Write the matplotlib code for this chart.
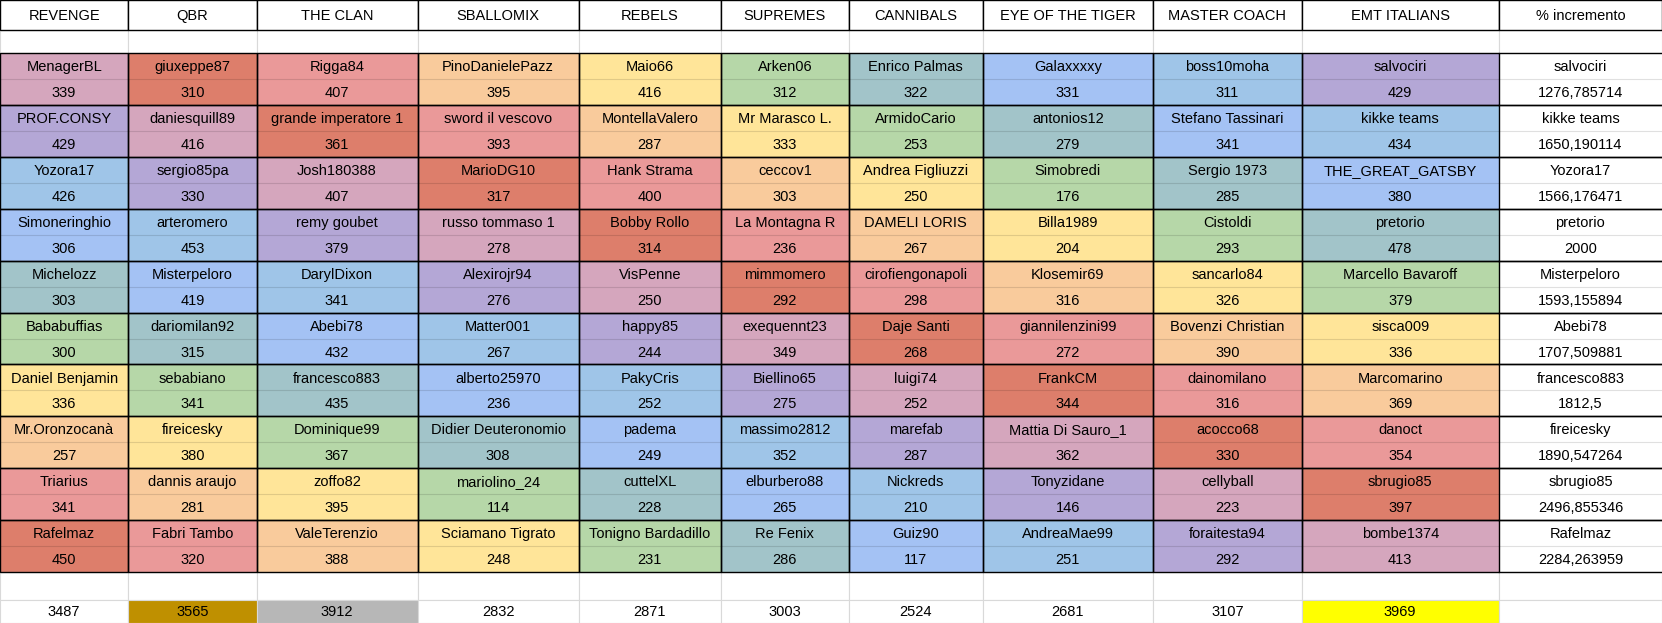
import matplotlib
matplotlib.use("Agg")
import matplotlib.pyplot as plt
from matplotlib.patches import Rectangle

teams = ["REVENGE","QBR","THE CLAN","SBALLOMIX","REBELS","SUPREMES","CANNIBALS","EYE OF THE TIGER","MASTER COACH","EMT ITALIANS"]
players = [
 ["MenagerBL","giuxeppe87","Rigga84","PinoDanielePazz","Maio66","Arken06","Enrico Palmas","Galaxxxxy","boss10moha","salvociri"],
 ["PROF.CONSY","daniesquill89","grande imperatore 1","sword il vescovo","MontellaValero","Mr Marasco L.","ArmidoCario","antonios12","Stefano Tassinari","kikke teams"],
 ["Yozora17","sergio85pa","Josh180388","MarioDG10","Hank Strama","ceccov1","Andrea Figliuzzi","Simobredi","Sergio 1973","THE_GREAT_GATSBY"],
 ["Simoneringhio","arteromero","remy goubet","russo tommaso 1","Bobby Rollo","La Montagna R","DAMELI LORIS","Billa1989","Cistoldi","pretorio"],
 ["Michelozz","Misterpeloro","DarylDixon","Alexirojr94","VisPenne","mimmomero","cirofiengonapoli","Klosemir69","sancarlo84","Marcello Bavaroff"],
 ["Bababuffias","dariomilan92","Abebi78","Matter001","happy85","exequennt23","Daje Santi","giannilenzini99","Bovenzi Christian","sisca009"],
 ["Daniel Benjamin","sebabiano","francesco883","alberto25970","PakyCris","Biellino65","luigi74","FrankCM","dainomilano","Marcomarino"],
 ["Mr.Oronzocanà","fireicesky","Dominique99","Didier Deuteronomio","padema","massimo2812","marefab","Mattia Di Sauro_1","acocco68","danoct"],
 ["Triarius","dannis araujo","zoffo82","mariolino_24","cuttelXL","elburbero88","Nickreds","Tonyzidane","cellyball","sbrugio85"],
 ["Rafelmaz","Fabri Tambo","ValeTerenzio","Sciamano Tigrato","Tonigno Bardadillo","Re Fenix","Guiz90","AndreaMae99","foraitesta94","bombe1374"],
]
scores = [
 [339,310,407,395,416,312,322,331,311,429],
 [429,416,361,393,287,333,253,279,341,434],
 [426,330,407,317,400,303,250,176,285,380],
 [306,453,379,278,314,236,267,204,293,478],
 [303,419,341,276,250,292,298,316,326,379],
 [300,315,432,267,244,349,268,272,390,336],
 [336,341,435,236,252,275,252,344,316,369],
 [257,380,367,308,249,352,287,362,330,354],
 [341,281,395,114,228,265,210,146,223,397],
 [450,320,388,248,231,286,117,251,292,413],
]
best_names = ["salvociri","kikke teams","Yozora17","pretorio","Misterpeloro","Abebi78","francesco883","fireicesky","sbrugio85","Rafelmaz"]
best_pct = ["1276,785714","1650,190114","1566,176471","2000","1593,155894","1707,509881","1812,5","1890,547264","2496,855346","2284,263959"]
totals = [3487,3565,3912,2832,2871,3003,2524,2681,3107,3969]

palette = ["#d5a6bd","#dd7e6b","#ea9999","#f9cb9c","#ffe599","#b6d7a8","#a2c4c9","#a4c2f4","#9fc5e8","#b4a7d6"]
total_fill = {1:"#bf9000",2:"#b7b7b7",9:"#ffff00"}

W, H = 1568, 588
xb = [0,121,242,394,546,680,801,927,1088,1228,1414,1568]
fig = plt.figure(figsize=(16.62,6.23), dpi=100)
ax = fig.add_axes([0,0,1,1])
ax.set_xlim(0,W); ax.set_ylim(H,0); ax.axis("off")
fs = 10.5
fam = "Liberation Sans"
grid = "#d9d9d9"

def rect(x0,x1,y0,y1,fc="white",ec=grid,lw=0.8,z=1):
    ax.add_patch(Rectangle((x0,y0),x1-x0,y1-y0,facecolor=fc,edgecolor=ec,lw=lw,zorder=z))

# header
for j in range(11):
    rect(xb[j],xb[j+1],0,28,ec="black",lw=1.0,z=2)
    t = teams[j] if j<10 else "% incremento"
    ax.text((xb[j]+xb[j+1])/2,15,t,ha="center",va="center",fontsize=fs,family=fam,zorder=5)
for j in range(11):
    rect(xb[j],xb[j+1],28,50)
rh = 24.5
for i in range(10):
    y0 = 50 + 2*rh*i
    for j in range(11):
        c = palette[(j-i)%10] if j<10 else "white"
        rect(xb[j],xb[j+1],y0,y0+rh,fc=c,ec="none",z=1)
        rect(xb[j],xb[j+1],y0+rh,y0+2*rh,fc=c,ec="none",z=1)
        ax.plot([xb[j],xb[j+1]],[y0+rh,y0+rh],color="#000000",alpha=0.12,lw=0.8,zorder=2)
        if j<10:
            rect(xb[j],xb[j+1],y0,y0+2*rh,fc="none",ec="black",lw=1.0,z=3)
            n, v = players[i][j], str(scores[i][j])
        else:
            ax.plot([xb[j],xb[j+1]],[y0,y0],color="black",lw=1.0,zorder=3)
            ax.plot([xb[j],xb[j+1]],[y0+2*rh,y0+2*rh],color="black",lw=1.0,zorder=3)
            n, v = best_names[i], best_pct[i]
        xc=(xb[j]+xb[j+1])/2
        ax.text(xc,y0+rh/2+1,n,ha="center",va="center",fontsize=fs,family=fam,zorder=5)
        ax.text(xc,y0+1.5*rh+1,v,ha="center",va="center",fontsize=fs,family=fam,zorder=5)
yb = 50+20*rh
for j in range(11):
    rect(xb[j],xb[j+1],yb,566)
    rect(xb[j],xb[j+1],566,H,fc=total_fill.get(j,"white"))
    if j<10:
        ax.text((xb[j]+xb[j+1])/2,578,str(totals[j]),ha="center",va="center",fontsize=fs,family=fam,zorder=5)
fig.savefig("out.png",dpi=100)
